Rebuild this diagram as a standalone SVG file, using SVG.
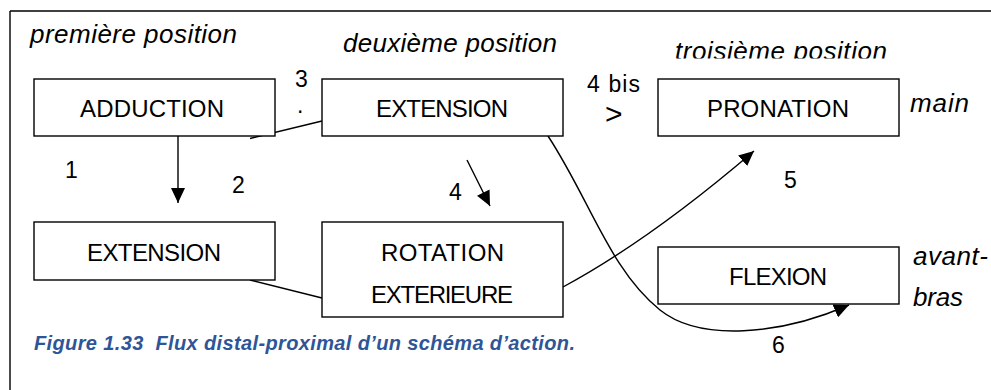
<svg xmlns="http://www.w3.org/2000/svg" width="991" height="390" viewBox="0 0 991 390">
<defs>
<style>
.box{fill:#fff;stroke:#000;stroke-width:1.4}
.lbl{font-family:"Liberation Sans",Arial,sans-serif;font-size:24px;fill:#000;text-anchor:middle}
.it{font-family:"Liberation Sans",Arial,sans-serif;font-size:26px;font-style:italic;fill:#000}
.num{font-family:"Liberation Sans",Arial,sans-serif;font-size:23px;fill:#000}
.cap{font-family:"Liberation Sans",Arial,sans-serif;font-size:20px;font-style:italic;font-weight:bold;fill:#2E5597;white-space:pre}
.ln{fill:none;stroke:#000;stroke-width:1.4}
</style>
<marker id="ah" markerUnits="userSpaceOnUse" markerWidth="16" markerHeight="14" refX="15" refY="7" orient="auto">
<path d="M0,0 L15,7 L0,14 z" fill="#000"/>
</marker>
<clipPath id="clipTop"><rect x="0" y="0" width="991" height="58.5"/></clipPath>
</defs>
<rect width="991" height="390" fill="#fff"/>
<g id="frame">
<path d="M10,11 H991 M10,11 V390" class="ln"/>
</g>
<g id="connectors">
<path d="M178,136 V203" class="ln" marker-end="url(#ah)"/>
<path d="M250,138.5 L322,121" class="ln"/>
<path d="M467,160 L490,206" class="ln" marker-end="url(#ah)"/>
<path d="M250,280 L322,298" class="ln"/>
<path d="M563,287 Q650,240 754,151" class="ln" marker-end="url(#ah)"/>
<path d="M548,136 C590,200 610,270 660,310 C700,342 780,335 849,305" class="ln" marker-end="url(#ah)"/>
</g>
<g id="node-adduction">
<rect class="box" x="34" y="79" width="241" height="57"/>
<text class="lbl" x="152" y="117" textLength="144">ADDUCTION</text>
</g>
<g id="node-extension1">
<rect class="box" x="322" y="79" width="241" height="57"/>
<text class="lbl" x="442" y="117" textLength="132">EXTENSION</text>
</g>
<g id="node-pronation">
<rect class="box" x="658" y="79" width="241" height="57"/>
<text class="lbl" x="778" y="117" textLength="142">PRONATION</text>
</g>
<g id="node-extension2">
<rect class="box" x="34" y="222" width="241" height="58"/>
<text class="lbl" x="154" y="261" textLength="134">EXTENSION</text>
</g>
<g id="node-rotation">
<rect class="box" x="322" y="222" width="241" height="95"/>
<text class="lbl" x="442.5" y="261" textLength="123">ROTATION</text>
<text class="lbl" x="442" y="303" textLength="142">EXTERIEURE</text>
</g>
<g id="node-flexion">
<rect class="box" x="658" y="247" width="241" height="57"/>
<text class="lbl" x="778" y="285" textLength="98">FLEXION</text>
</g>
<g id="labels">
<text class="it" x="30" y="43" textLength="207">première position</text>
<text class="it" x="343" y="52" textLength="214">deuxième position</text>
<text class="it" x="675" y="60" textLength="212" clip-path="url(#clipTop)">troisième position</text>
<text class="it" x="910" y="112" textLength="59">main</text>
<text class="it" x="913" y="265" textLength="75">avant-</text>
<text class="it" x="913" y="306" textLength="50">bras</text>
<text class="num" x="65" y="178">1</text>
<text class="num" x="232" y="193">2</text>
<text class="num" x="295" y="87">3</text>
<text class="num" x="297" y="113">.</text>
<text class="num" x="587" y="92" textLength="53">4 bis</text>
<text class="num" x="605" y="124" style="font-size:30px">&gt;</text>
<text class="num" x="449" y="200">4</text>
<text class="num" x="784" y="188">5</text>
<text class="num" x="772" y="353">6</text>
<text class="cap" x="34" y="350" textLength="541">Figure 1.33  Flux distal-proximal d’un schéma d’action.</text>
</g>
</svg>
